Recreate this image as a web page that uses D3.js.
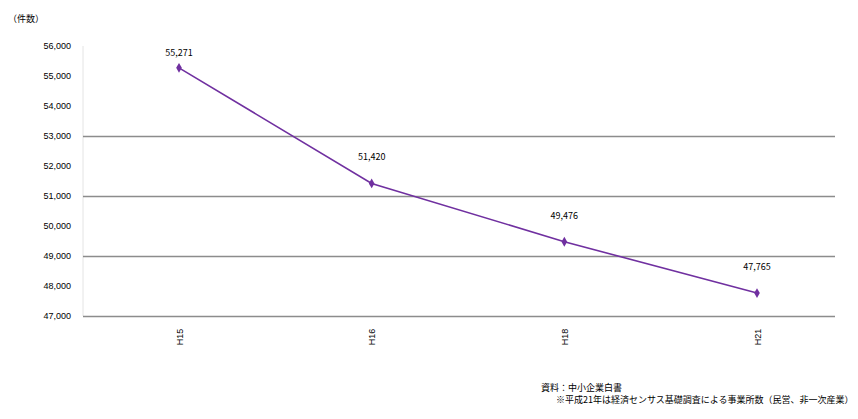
<!DOCTYPE html>
<html>
<head>
<meta charset="utf-8">
<script src="https://cdn.jsdelivr.net/npm/d3@7"></script>
<style>
  html, body { margin: 0; padding: 0; background: #fff; }
  svg { display: block; font-family: "Noto Sans CJK JP", "DejaVu Sans", sans-serif; }
</style>
</head>
<body>
<svg id="chart" width="858" height="419"></svg>
<script>
// Number of establishments by survey year
const years = ["H15", "H16", "H18", "H21"];
const counts = [55271, 51420, 49476, 47765];
const yTicks = [47000, 48000, 49000, 50000, 51000, 52000, 53000, 54000, 55000, 56000];
const gridValues = [47000, 49000, 51000, 53000];
const unitLabel = "（件数）";
const sourceLines = ["資料：中小企業白書", "※平成21年は経済センサス基礎調査による事業所数（民営、非一次産業）"];

const svg = d3.select("#chart");
const plot = { left: 83, right: 835, top: 46, bottom: 316 };

const x = d3.scalePoint().domain(years).range([179, 757]);
const y = d3.scaleLinear().domain([47000, 56000]).range([plot.bottom, plot.top]);

// vertical axis line
svg.append("line")
  .attr("x1", plot.left).attr("x2", plot.left)
  .attr("y1", plot.top).attr("y2", plot.bottom)
  .attr("stroke", "#e4e4e4").attr("stroke-width", 1);

// horizontal gridlines
svg.append("g").selectAll("line").data(gridValues).join("line")
  .attr("x1", plot.left).attr("x2", plot.right)
  .attr("y1", d => Math.round(y(d)) + 0.5).attr("y2", d => Math.round(y(d)) + 0.5)
  .attr("stroke", "#8c8c8c").attr("stroke-width", 1.5);

// y axis labels
const yAxis = d3.axisLeft(y).tickValues(yTicks).tickSize(0).tickPadding(0)
  .tickFormat(d3.format(","));
const gy = svg.append("g").attr("transform", `translate(71,0)`).call(yAxis);
gy.select(".domain").remove();
gy.selectAll("text").attr("font-size", 9).attr("fill", "#000");

// x axis labels, rotated
const xAxis = d3.axisBottom(x).tickSize(0).tickPadding(0);
const gx = svg.append("g").attr("transform", `translate(0,${plot.bottom})`).call(xAxis);
gx.select(".domain").remove();
gx.selectAll("text")
  .attr("font-size", 9).attr("fill", "#000")
  .attr("transform", "translate(0,21) rotate(-90)")
  .attr("text-anchor", "middle").attr("dy", "0.35em").attr("y", 0).attr("x", 0);

// unit label
svg.append("text").attr("x", 8).attr("y", 22)
  .attr("font-size", 9).attr("fill", "#000").text(unitLabel);

// line
const pts = years.map((k, i) => [x(k), y(counts[i])]);
svg.append("path")
  .attr("d", d3.line()(pts))
  .attr("fill", "none").attr("stroke", "#7030a0").attr("stroke-width", 1.6);

// markers
svg.append("g").selectAll("path").data(pts).join("path")
  .attr("d", d3.symbol().type(d3.symbolDiamond).size(28))
  .attr("transform", d => `translate(${d[0]},${d[1]})`)
  .attr("fill", "#7030a0");

// value labels, kept below the top edge of the plot
svg.append("g").selectAll("text").data(years).join("text")
  .attr("x", (d, i) => x(d))
  .attr("y", (d, i) => Math.max(y(counts[i]) - 23, 56))
  .attr("text-anchor", "middle").attr("font-size", 9).attr("fill", "#000")
  .text((d, i) => d3.format(",")(counts[i]));

// source notes
svg.append("text").attr("x", 541).attr("y", 391)
  .attr("font-size", 9).attr("fill", "#000").text(sourceLines[0]);
svg.append("text").attr("x", 556).attr("y", 403)
  .attr("font-size", 9).attr("fill", "#000").text(sourceLines[1]);
</script>
</body>
</html>
